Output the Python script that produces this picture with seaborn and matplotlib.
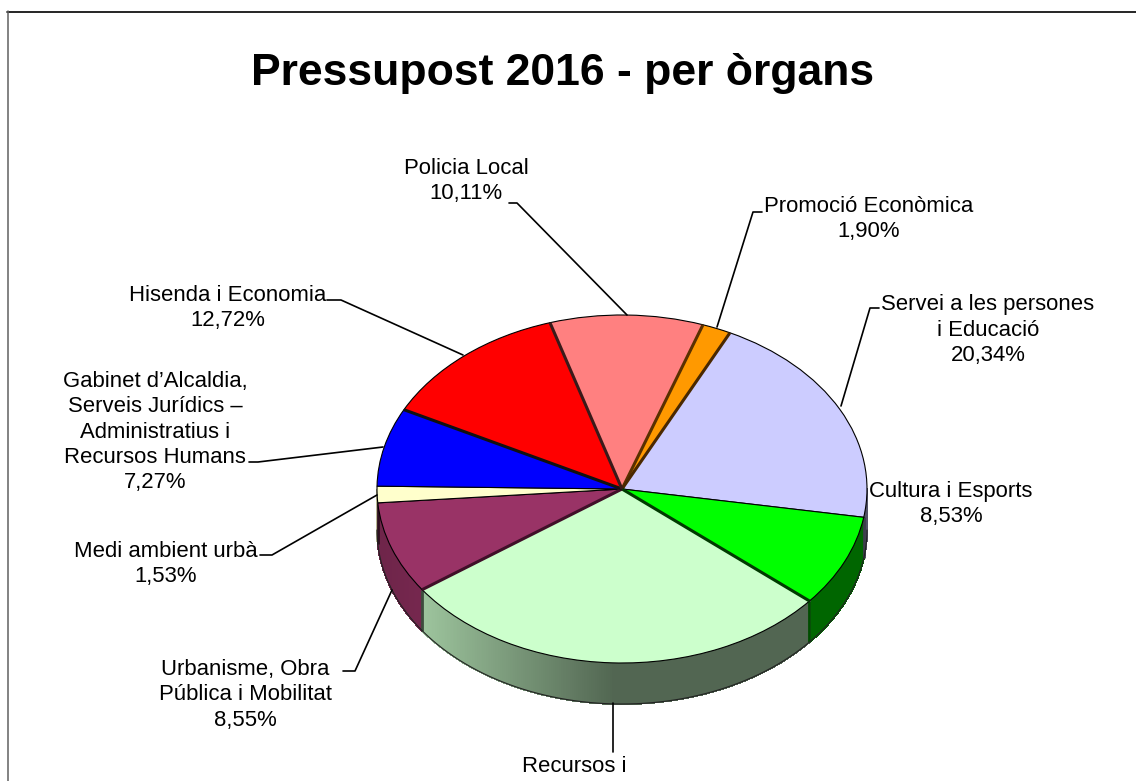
import numpy as np
import matplotlib
matplotlib.use("Agg")
import matplotlib.pyplot as plt
import matplotlib.colors as mcolors
import seaborn as sns

organs = ["Promoció Econòmica", "Servei a les persones\ni Educació", "Cultura i Esports",
          "Recursos i", "Urbanisme, Obra\nPública i Mobilitat", "Medi ambient urbà",
          "Gabinet d’Alcaldia,\nServeis Jurídics –\nAdministratius i\nRecursos Humans",
          "Hisenda i Economia", "Policia Local"]
shares = [1.90, 20.34, 8.53, 29.05, 8.55, 1.53, 7.27, 12.72, 10.11]
share_labels = ["1,90%", "20,34%", "8,53%", "", "8,55%", "1,53%", "7,27%", "12,72%", "10,11%"]
slice_colors = ["#FF9900", "#CCCCFF", "#00FF00", "#CCFFCC", "#993366",
                "#FFFFCC", "#0000FF", "#FF0000", "#FF8080"]

# pixel layout of the picture
W, H = 1136, 781
cx, cy, rad = 622, 489, 245
squash = 174 / 245
depth = 41
start = 19.3  # degrees clockwise from the top

sns.set_theme(style="white")
plt.rcParams["font.family"] = ["Liberation Sans", "DejaVu Sans"]
palette = sns.color_palette(slice_colors)

fig = plt.figure(figsize=(W / 100, H / 100), dpi=100, facecolor="white")

# pie axes: y is stretched so that the round pie comes out flattened
ax = fig.add_axes([0, 0, 1, 1])
cy_data = (H - cy) / squash
depth_data = depth / squash

edges = start + np.cumsum([0] + shares) * 3.6


def shade(x):
    return np.interp(x, [377, 422, 613], [0.72, 0.77, 0.40])


# side wall, one thin strip per step so the shading runs along the rim
for i, col in enumerate(palette):
    a0, a1 = max(edges[i], 90), min(edges[i + 1], 270)
    if a1 <= a0:
        continue
    steps = np.arange(a0, a1 + 0.5, 0.5)
    for t0, t1 in zip(steps[:-1], np.minimum(steps[1:], a1)):
        tt = np.radians([t0, t1])
        xs = cx + rad * np.sin(tt)
        ys = cy_data + rad * np.cos(tt)
        c = np.array(mcolors.to_rgb(col)) * shade(xs.mean())
        ax.fill(np.r_[xs, xs[::-1]], np.r_[ys, ys[::-1] - depth_data],
                facecolor=c, edgecolor=c, lw=0.8, antialiased=False, zorder=1)
    # dark seam at the end of the wall piece
    tt = np.radians(a1)
    if a1 < 270:
        xe = cx + rad * np.sin(tt)
        ye = cy_data + rad * np.cos(tt)
        seam = np.array(mcolors.to_rgb(col)) * 0.3
        ax.plot([xe, xe], [ye, ye - depth_data], color=seam, lw=2, zorder=2,
                solid_capstyle="butt")

arc = np.radians(np.linspace(90, 270, 300))
ax.plot(cx + rad * np.sin(arc), cy_data + rad * np.cos(arc) - depth_data,
        color="#222222", lw=0.8, zorder=2)

wedges, _ = ax.pie(shares, startangle=90 - start, counterclock=False,
                   center=(cx, cy_data), radius=rad, colors=palette,
                   wedgeprops=dict(edgecolor="black", linewidth=0.8))
for w in wedges:
    w.set_zorder(3)

# thicker dark boundaries between some slices
seams = {0: "#5a3000", 1: "#4a2800", 3: "#003a00", 4: "#400f28", 7: "#101010", 8: "#3a1a1a"}
for i, col in seams.items():
    t = np.radians(edges[i])
    ax.plot([cx, cx + rad * np.sin(t)], [cy_data, cy_data + rad * np.cos(t)],
            color=col, lw=2.2, zorder=4, solid_capstyle="butt")

ax.set_aspect("auto")
ax.set_xlim(0, W)
ax.set_ylim(0, H / squash)
ax.axis("off")

# overlay in pixel coordinates for frame, labels and leader lines
top = fig.add_axes([0, 0, 1, 1])
top.set_xlim(0, W)
top.set_ylim(H, 0)
top.axis("off")
top.patch.set_alpha(0)

top.plot([7, W], [11.5, 11.5], color="black", lw=1.2)
top.plot([7.5, 7.5], [11, H], color="#606060", lw=1.1)

top.text(563, 73, "Pressupost 2016 - per òrgans", fontsize=32, fontweight="bold",
         color="black", ha="center", va="center")

label_pos = [(869, 219), (988, 330), (951, 504), (574.5, 767), (245, 695),
             (166, 564), (155, 432), (228, 308), (466, 181)]
for name, pct, (x, y) in zip(organs, share_labels, label_pos):
    txt = name + ("\n" + pct if pct else "")
    top.text(x, y, txt, fontsize=15.9, color="black", ha="center", va="center",
             linespacing=1.28)

leaders = [
    [(509, 203), (517, 203), (627, 315)],
    [(762, 212), (753, 212), (717, 327)],
    [(879, 308), (870, 308), (841, 406)],
    [(613, 703), (613, 752)],
    [(343, 671), (355, 671), (392, 590)],
    [(260, 555), (272, 555), (377, 495)],
    [(249, 462), (258, 462), (383, 447)],
    [(327, 300), (341, 300), (463, 355)],
]
for pts in leaders:
    xs, ys = zip(*pts)
    top.plot(xs, ys, color="black", lw=1.2)

fig.savefig("out.png", dpi=100)
